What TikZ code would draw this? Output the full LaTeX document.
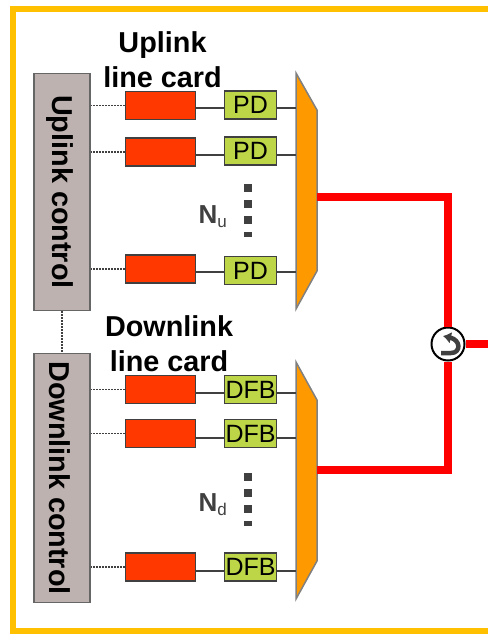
\documentclass[tikz,border=0pt]{standalone}
\usepackage{fontspec}
\setmainfont{Liberation Sans}
\usetikzlibrary{arrows.meta}
\definecolor{framecol}{HTML}{FFC000}
\definecolor{ctrlcol}{HTML}{BDB2AF}
\definecolor{cardcol}{HTML}{FF3800}
\definecolor{pdcol}{HTML}{BCD648}
\definecolor{muxcol}{HTML}{FF9900}
\definecolor{wirecol}{HTML}{404040}
\tikzset{
  ctrlbox/.style={draw=wirecol!80, line width=1.8pt, fill=ctrlcol, minimum width=56pt, inner sep=0pt},
  cardbox/.style={draw=wirecol, line width=1.8pt, fill=cardcol, minimum width=70pt, minimum height=28pt, inner sep=0pt},
  pdbox/.style={draw=wirecol, line width=1.8pt, fill=pdcol, minimum width=52pt, minimum height=28pt, inner sep=0pt, font=\fontsize{25}{25}\selectfont},
  mux/.style={draw=gray, line width=1.5pt, fill=muxcol},
  wire/.style={draw=wirecol, line width=2pt},
  ctlwire/.style={draw=wirecol, line width=1.5pt, dash pattern=on 1.5pt off 1.5pt},
  fibre/.style={draw=red, line width=8pt},
  dotsline/.style={draw=wirecol, line width=8pt, dash pattern=on 8pt off 8pt},
  title/.style={align=center, inner sep=0pt, font=\fontsize{28.8}{35}\selectfont\bfseries},
  sidetext/.style={rotate=-90, inner sep=0pt, font=\fontsize{28.8}{36}\selectfont\bfseries},
  count/.style={inner sep=0pt, text=wirecol, font=\fontsize{26}{26}\selectfont\bfseries}
}
\begin{document}
\begin{tikzpicture}[x=1pt,y=-1pt]
   \useasboundingbox (0,0) rectangle (488,634);
   \draw[framecol, line width=6pt] (488,9.5) -- (12.5,9.5) -- (12.5,631) -- (488,631);

   % control boxes
   \node[ctrlbox, minimum height=237pt] (upctrl) at (61.75,192) {};
   \node[ctrlbox, minimum height=249pt] (downctrl) at (61.75,478) {};
   \node[sidetext] at ([xshift=-2pt]upctrl.center) {Uplink control};
   \node[sidetext] at ([xshift=-2pt]downctrl.center) {Downlink control};
   \draw[ctlwire] (upctrl) -- (downctrl);

   % muxes
   \draw[mux] (296,73) -- (317,110) -- (317,271) -- (296,309) -- cycle;
   \draw[mux] (296,362) -- (317,400) -- (317,561) -- (296,599) -- cycle;
   \coordinate (upout) at (317,197);
   \coordinate (downout) at (317,470);

   % line cards
   \foreach \nm/\ctrl/\lab/\ycard/\ypd/\yport in {
       ua/upctrl/PD/105.5/104.7/108, ub/upctrl/PD/152/151/155, uc/upctrl/PD/269/270.5/272,
       da/downctrl/DFB/389.5/389.5/393, db/downctrl/DFB/433.5/433.5/438, dc/downctrl/DFB/567/567/571} {
     \node[cardbox] (card\nm) at (160.5,\ycard) {};
     \node[pdbox] (pd\nm) at (250.5,\ypd) {\lab};
     \coordinate (port\nm) at (296,\yport);
     \draw[ctlwire] (card\nm.west) -- (card\nm.west -| \ctrl.east);
     \draw[wire] (card\nm.east |- port\nm) -- (pd\nm.west |- port\nm);
     \draw[wire] (pd\nm.east |- port\nm) -- (port\nm);
   }

   \node[title] (uptitle) at (162.5,59.5) {Uplink\\line card};
   \node[title] (downtitle) at (169,343.5) {Downlink\\line card};

   \draw[dotsline] (248,184) -- (248,237);
   \draw[dotsline] (248,473) -- (248,526);
   \node[count] (nup) at (213,217) {N\textsubscript{\fontsize{17}{17}\selectfont\mdseries u}};
   \node[count] (ndown) at (213,505) {N\textsubscript{\fontsize{17}{17}\selectfont\mdseries d}};

   % fibre and circulator
   \node[circle, draw=black, line width=2pt, fill=white, minimum size=33pt, inner sep=0pt] (circ) at (448,344) {};
   \coordinate (outend) at (488,344);
   \draw[fibre] (upout) -- (upout -| circ) -- (circ.north);
   \draw[fibre] (downout) -- (downout -| circ) -- (circ.south);
   \draw[fibre] (circ.east) -- (outend);
   \draw[wirecol, line width=4.5pt, -{Latex[length=8pt,width=12pt]}] ([shift={(-7,9)}]circ.center) -- ([shift={(3,9)}]circ.center) .. controls ([shift={(13,9)}]circ.center) and ([shift={(13,-4)}]circ.center) .. ([shift={(-5,-8)}]circ.center);
\end{tikzpicture}
\end{document}
